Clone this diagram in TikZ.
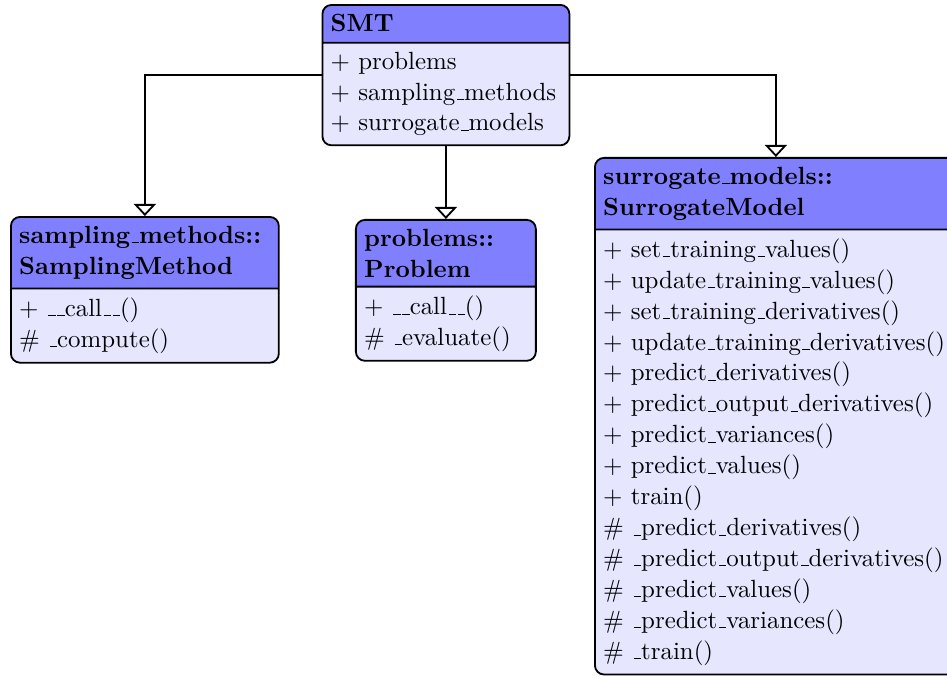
\documentclass[tikz,border=0pt]{standalone}
\usepackage{tikz}
\usetikzlibrary{arrows,arrows.meta,positioning,shapes.multipart}
\usepackage{xcolor}
\definecolor{headblue}{HTML}{8080FF}
\definecolor{bodyblue}{HTML}{E6E6FF}
\newcommand{\nohyph}{\fontsize{10.95pt}{13.6pt}\selectfont
  \hyphenpenalty=10000\relax\exhyphenpenalty=10000\relax}
\tikzset{umlclass/.style={rectangle split,rectangle split parts=2,draw=black,thick,
  rounded corners=4pt,rectangle split part fill={headblue,bodyblue},
  inner xsep=3.65pt,inner ysep=3.65pt,anchor=north west,font=\nohyph}}
\tikzset{inherit/.style={-{Triangle[open,width=9.7pt,length=5.3pt]},thick}}
\newcommand{\us}{\leavevmode\kern.06em\vbox{\hrule width.3em}}
\newcommand{\pub}{$+$~}
\newcommand{\prot}{\#~}

\begin{document}
\begin{tikzpicture}
% \draw[help lines] (0,0) grid (15,-10);
\useasboundingbox (0,0) rectangle (14.648,-10.441);
\node (smt) [umlclass,text width=101.4pt] at (4.973,-0.062)
  {\textbf{SMT}\rule[-0.9pt]{0pt}{1pt}
   \nodepart{two}\pub problems\\ \pub sampling\us methods\\ \pub surrogate\us models};
\node (sampl) [umlclass,text width=110.6pt] at (0.155,-3.341)
  {\textbf{sampling\us methods::}\\ \textbf{SamplingMethod}
   \nodepart{two}\pub \us\us call\us\us()\\ \prot \us compute()};
\node (prob) [umlclass,text width=71.9pt] at (5.491,-3.387)
  {\textbf{problems::}\\ \textbf{Problem}
   \nodepart{two}\pub \us\us call\us\us()\\ \prot \us evaluate()};
\node (surr) [umlclass,text width=152pt] at (9.188,-2.428)
  {\textbf{surrogate\us models::}\\ \textbf{SurrogateModel}
   \nodepart{two}\pub set\us training\us values()\\
   \pub update\us training\us values()\\
   \pub set\us training\us derivatives()\\
   \pub update\us training\us derivatives()\\
   \pub predict\us derivatives()\\
   \pub predict\us output\us derivatives()\\
   \pub predict\us variances()\\
   \pub predict\us values()\\
   \pub train()\\
   \prot \us predict\us derivatives()\\
   \prot \us predict\us output\us derivatives()\\
   \prot \us predict\us values()\\
   \prot \us predict\us variances()\\
   \prot \us train()};
%
\draw[inherit] (smt.west) -| (sampl.north);
\draw[inherit] (smt.south) -- (smt.south |- prob.north);
\draw[inherit] (smt.east) -| (surr.north);
\end{tikzpicture}
\end{document}
